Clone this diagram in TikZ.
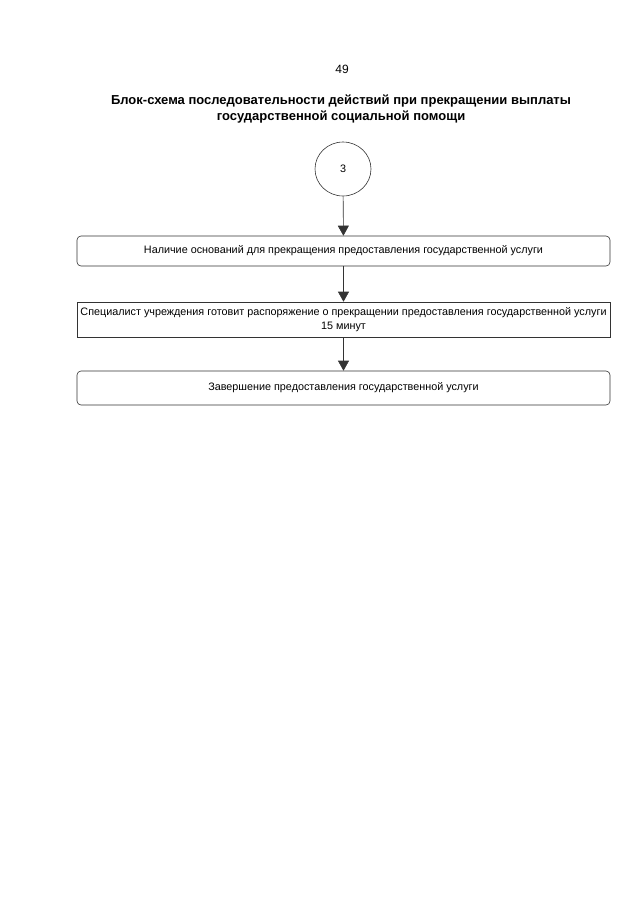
\documentclass[tikz,border=0pt]{standalone}
\usepackage{fontspec}
\setmainfont{Liberation Sans}
\usetikzlibrary{arrows.meta,shapes.geometric}
\begin{document}
\begin{tikzpicture}[x=1pt,y=-1pt,
  box/.style={draw=black!80,line width=0.6pt,minimum width=533pt,align=center,inner sep=1pt,font=\fontsize{10.8}{14}\selectfont},
  rbox/.style={box,rounded corners=4pt},
  conn/.style={draw=black!80,line width=0.6pt,-{Triangle[length=10pt,width=11pt]}}]
\useasboundingbox (0,0) rectangle (640,905);
\node (page) at (342,69) {\fontsize{12}{14}\selectfont 49};
\node[align=center,font=\fontsize{13}{16}\selectfont\bfseries] (title) at (341,109) {Блок-схема последовательности действий при прекращении выплаты\\государственной социальной помощи};
\node[draw=black!80,line width=0.6pt,ellipse,minimum width=56pt,minimum height=54pt,inner sep=0pt,font=\fontsize{10.8}{12}\selectfont] (c) at (343,169) {3};
\node[rbox,minimum height=30pt] (b1) at (343.5,251) {Наличие оснований для прекращения предоставления государственной услуги};
\node[box,minimum height=35pt] (b2) at (343.5,319.5) {Специалист учреждения готовит распоряжение о прекращении предоставления государственной услуги\\15 минут};
\node[rbox,minimum height=34pt] (b3) at (343.5,388) {Завершение предоставления государственной услуги};
\draw[conn] (c) -- (b1);
\draw[conn] (b1) -- (b2);
\draw[conn] (b2) -- (b3);
\end{tikzpicture}
\end{document}
